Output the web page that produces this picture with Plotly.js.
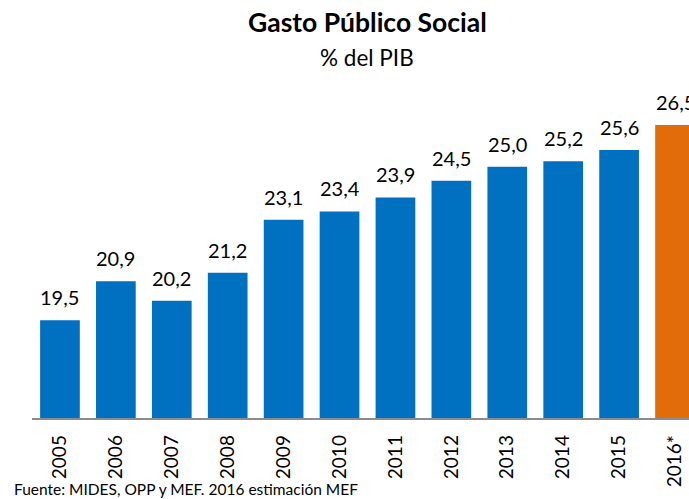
<!DOCTYPE html>
<html><head><meta charset="utf-8">
<script src="https://cdn.plot.ly/plotly-3.0.1.min.js"></script>
<style>html,body{margin:0;padding:0;overflow:hidden;background:#fff}</style>
</head><body><div id="chart" style="width:689px;height:499px"></div>
<script>
const years = ["2005","2006","2007","2008","2009","2010","2011","2012","2013","2014","2015","2016*"];
const values = [19.5,20.9,20.2,21.2,23.1,23.4,23.9,24.5,25.0,25.2,25.6,26.5];
const labels = ["19,5","20,9","20,2","21,2","23,1","23,4","23,9","24,5","25,0","25,2","25,6","26,5"];
const colors = years.map((y,i)=> i===years.length-1 ? "#E36C0A" : "#0070C0");
const fontFam = "Lato, 'Open Sans', sans-serif";
const trace = {
  type:"bar", x: years, y: values, marker:{color:colors}, hoverinfo:"none"
};
const valueNotes = years.map((y,i)=>({
  x: i, y: values[i], xref:"x", yref:"y", text: labels[i], showarrow:false,
  xanchor:"center", yanchor:"bottom", yshift:9,
  font:{family:fontFam, size:20, color:"#000"}
}));
const layout = {
  width:689, height:499, margin:{l:32,r:0,t:83,b:81},
  paper_bgcolor:"#fff", plot_bgcolor:"#fff", showlegend:false, bargap:0.29,
  xaxis:{type:"category", range:[-0.5,11.25], showline:true, linecolor:"#8c8c8c", linewidth:1.5,
    tickangle:-90, tickfont:{family:fontFam,size:19,color:"#000"}, ticks:"", ticklabelstandoff:8, showgrid:false},
  yaxis:{range:[16,28], visible:false, showgrid:false, zeroline:false},
  annotations: valueNotes.concat([
    {text:"<b>Gasto Público Social</b>", xref:"paper", yref:"paper", x:(367-32)/657, y:1+(83-22)/335, xanchor:"center", yanchor:"middle", showarrow:false, font:{family:"Lato, sans-serif",size:26.5,color:"#000"}},
    {text:"% del PIB", xref:"paper", yref:"paper", x:(367-32)/657, y:1+(83-57)/335, xanchor:"center", yanchor:"middle", showarrow:false, font:{family:"Lato, sans-serif",size:22.5,color:"#000"}},
    {text:"Fuente: MIDES, OPP y MEF. 2016 estimación MEF", xref:"paper", yref:"paper", x:(12-32)/657, y:-(489-418)/335, xanchor:"left", yanchor:"middle", showarrow:false, font:{family:"Lato, sans-serif",size:15.5,color:"#000"}}
  ])
};
Plotly.newPlot("chart",[trace],layout,{displayModeBar:false, staticPlot:true});
</script></body></html>
